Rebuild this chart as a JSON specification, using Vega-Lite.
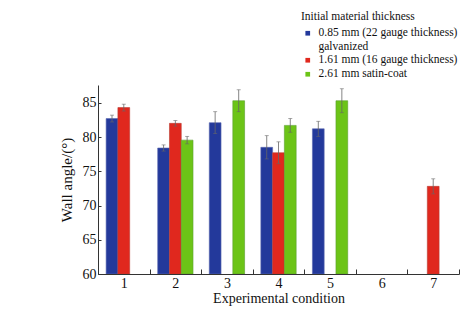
{
  "$schema": "https://vega.github.io/schema/vega-lite/v6.json",
  "width": 361,
  "height": 189,
  "autosize": {"type": "none"},
  "padding": {"left": 98, "top": 85, "right": 17, "bottom": 45},
  "background": "white",
  "config": {
    "view": {"stroke": null},
    "font": "Liberation Serif",
    "axisY": {
      "labelOverlap": false,
      "grid": false,
      "tickSize": -3,
      "tickColor": "#333",
      "domainColor": "#333",
      "labelFontSize": 14,
      "labelColor": "#111",
      "labelPadding": 5,
      "titleFontSize": 15,
      "titleFontWeight": "normal",
      "titleColor": "#111",
      "titlePadding": 8
    }
  },
  "data": {
    "values": [
      {"cond": "1", "series": "0.85 mm (22 gauge thickness)|galvanized", "value": 82.7, "err": 0.5},
      {"cond": "1", "series": "1.61 mm (16 gauge thickness)", "value": 84.3, "err": 0.5},
      {"cond": "2", "series": "0.85 mm (22 gauge thickness)|galvanized", "value": 78.4, "err": 0.45},
      {"cond": "2", "series": "1.61 mm (16 gauge thickness)", "value": 82.0, "err": 0.4},
      {"cond": "2", "series": "2.61 mm satin-coat", "value": 79.55, "err": 0.55},
      {"cond": "3", "series": "0.85 mm (22 gauge thickness)|galvanized", "value": 82.1, "err": 1.6},
      {"cond": "3", "series": "2.61 mm satin-coat", "value": 85.3, "err": 1.6},
      {"cond": "4", "series": "0.85 mm (22 gauge thickness)|galvanized", "value": 78.5, "err": 1.7},
      {"cond": "4", "series": "1.61 mm (16 gauge thickness)", "value": 77.7, "err": 1.6},
      {"cond": "4", "series": "2.61 mm satin-coat", "value": 81.7, "err": 1.0},
      {"cond": "5", "series": "0.85 mm (22 gauge thickness)|galvanized", "value": 81.2, "err": 1.1},
      {"cond": "5", "series": "2.61 mm satin-coat", "value": 85.3, "err": 1.75},
      {"cond": "7", "series": "1.61 mm (16 gauge thickness)", "value": 72.8, "err": 1.1}
    ]
  },
  "transform": [
    {"calculate": "datum.value - datum.err", "as": "lo"},
    {"calculate": "datum.value + datum.err", "as": "hi"}
  ],
  "encoding": {
    "x": {
      "field": "cond",
      "type": "nominal",
      "scale": {"domain": ["1", "2", "3", "4", "5", "6", "7"], "paddingInner": 0, "paddingOuter": 0},
      "axis": {
        "title": "Experimental condition",
        "labelAngle": 0,
        "tickBand": "extent",
        "tickSize": -5,
        "tickColor": "#333",
        "domainColor": "#333",
        "labelFontSize": 14,
        "labelColor": "#111",
        "labelPadding": 7,
        "titleFontSize": 14,
        "titleFontWeight": "normal",
        "titleColor": "#111",
        "titlePadding": 1
      }
    },
    "xOffset": {
      "field": "series",
      "type": "nominal",
      "scale": {
        "domain": ["0.85 mm (22 gauge thickness)|galvanized", "1.61 mm (16 gauge thickness)", "2.61 mm satin-coat"],
        "paddingInner": 0,
        "paddingOuter": 0.69
      }
    }
  },
  "layer": [
    {
      "mark": {"type": "bar", "clip": true, "strokeWidth": 0.6},
      "encoding": {
        "y": {
          "field": "value",
          "type": "quantitative",
          "scale": {"domain": [60, 87.6], "nice": false, "zero": false},
          "axis": {"title": "Wall angle/(°)", "values": [60, 65, 70, 75, 80, 85]}
        },
        "y2": {"datum": 60},
        "color": {
          "field": "series",
          "type": "nominal",
          "scale": {
            "domain": ["0.85 mm (22 gauge thickness)|galvanized", "1.61 mm (16 gauge thickness)", "2.61 mm satin-coat"],
            "range": ["#23399b", "#e0281e", "#6cc417"]
          },
          "legend": {
            "title": "Initial material thickness",
            "orient": "none",
            "legendX": 203,
            "legendY": -74,
            "padding": 0,
            "titleFontSize": 11.5,
            "titleFontWeight": "normal",
            "titleColor": "#111",
            "titlePadding": 5,
            "labelFontSize": 11.5,
            "labelColor": "#111",
            "labelExpr": "split(datum.label, '|')",
            "labelOffset": 5,
            "labelLimit": 300,
            "symbolType": "square",
            "symbolSize": 22,
            "symbolOffset": 1,
            "symbolStrokeWidth": 0,
            "rowPadding": 1
          }
        },
        "stroke": {
          "field": "series",
          "type": "nominal",
          "scale": {
            "domain": ["0.85 mm (22 gauge thickness)|galvanized", "1.61 mm (16 gauge thickness)", "2.61 mm satin-coat"],
            "range": ["#5a68b0", "#b83a30", "#5aa030"]
          },
          "legend": null
        }
      }
    },
    {
      "mark": {"type": "rule", "color": "#666", "strokeWidth": 0.8},
      "encoding": {
        "y": {"field": "lo", "type": "quantitative", "axis": {"title": "Wall angle/(°)", "values": [60, 65, 70, 75, 80, 85]}},
        "y2": {"field": "hi"}
      }
    },
    {
      "mark": {"type": "tick", "color": "#666", "size": 4, "thickness": 0.8},
      "encoding": {"y": {"field": "lo", "type": "quantitative", "axis": {"title": "Wall angle/(°)", "values": [60, 65, 70, 75, 80, 85]}}}
    },
    {
      "mark": {"type": "tick", "color": "#666", "size": 4, "thickness": 0.8},
      "encoding": {"y": {"field": "hi", "type": "quantitative", "axis": {"title": "Wall angle/(°)", "values": [60, 65, 70, 75, 80, 85]}}}
    }
  ]
}
